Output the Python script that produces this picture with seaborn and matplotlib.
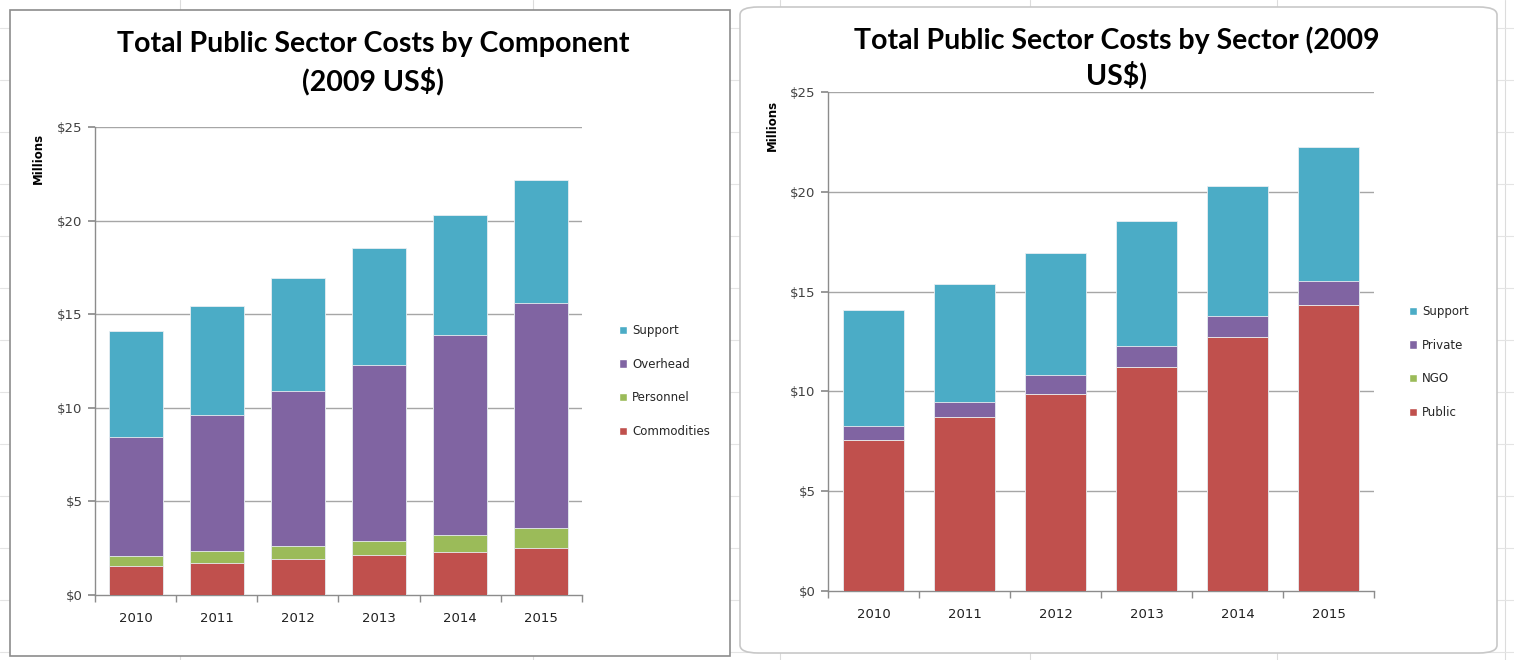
import matplotlib
matplotlib.use("Agg")
import matplotlib.pyplot as plt
from matplotlib.patches import Patch, FancyBboxPatch, Rectangle
from matplotlib.lines import Line2D
import numpy as np
import pandas as pd
import seaborn as sns

# ---------------- data ----------------
years = ["2010", "2011", "2012", "2013", "2014", "2015"]

# Left chart: by component (millions, 2009 US$)
commodities = [1.57, 1.73, 1.94, 2.16, 2.30, 2.51]
personnel   = [0.50, 0.62, 0.70, 0.74, 0.91, 1.06]
overhead    = [6.36, 7.26, 8.25, 9.39, 10.69, 12.02]
support_c   = [5.65, 5.84, 6.02, 6.24, 6.39, 6.59]

# Right chart: by sector (millions, 2009 US$)
public    = [7.56, 8.70, 9.88, 11.22, 12.74, 14.31]
ngo       = [0.0, 0.0, 0.0, 0.0, 0.0, 0.0]
private   = [0.73, 0.78, 0.94, 1.05, 1.05, 1.21]
support_s = [5.77, 5.92, 6.10, 6.26, 6.50, 6.70]

yticks = [0, 5, 10, 15, 20, 25]
ytick_labels = ["$0", "$5", "$10", "$15", "$20", "$25"]

title_left = "Total Public Sector Costs by Component\n(2009 US$)"
title_right = "Total Public Sector Costs by Sector (2009\nUS$)"

C_SUPPORT = "#4BACC6"
C_PURPLE = "#8064A2"
C_GREEN = "#9BBB59"
C_RED = "#C0504D"

sns.set_theme(style="white")
plt.rcParams["font.family"] = ["DejaVu Sans"]

fig = plt.figure(figsize=(15.14, 6.6), dpi=100)
fig.patch.set_facecolor("white")

W, H = 1514.0, 660.0

# spreadsheet-like background lines
for xv in [180, 533, 780, 1030, 1277, 1505]:
    fig.add_artist(Line2D([xv / W, xv / W], [0, 1], color="#dcdcdc", lw=0.8, zorder=0))
for yv in [28, 80, 132, 184, 236, 288, 340, 392, 444, 496, 548, 600, 652]:
    fig.add_artist(Line2D([0, 1], [1 - yv / H, 1 - yv / H], color="#e4e4e4", lw=0.8, zorder=0))

# chart panels
fig.add_artist(Rectangle((10 / W, 1 - 656 / H), 720 / W, 646 / H, transform=fig.transFigure,
                         facecolor="white", edgecolor="#8c8c8c", lw=1.2, zorder=0.5))
fig.add_artist(FancyBboxPatch((740 / W, 1 - 653 / H), 757 / W, 646 / H,
                              boxstyle="round,pad=0,rounding_size=0.012",
                              transform=fig.transFigure, facecolor="white",
                              edgecolor="#c8c8c8", lw=1.2, zorder=0.5))


def stacked(ax, layers, colors):
    cum = np.cumsum(np.array(layers), axis=0)
    for i in range(len(layers) - 1, -1, -1):
        df = pd.DataFrame({"year": years, "value": cum[i]})
        sns.barplot(data=df, x="year", y="value", ax=ax, color=colors[i],
                    width=0.667, edgecolor="#e8eef2", linewidth=0.6,
                    saturation=1, errorbar=None, zorder=3)


def style_axes(ax):
    ax.set_ylim(0, 25)
    ax.set_xlim(-0.5, 5.5)
    ax.set_yticks(yticks)
    ax.set_yticklabels(ytick_labels, fontsize=9.5, color="#404040")
    ax.set_xticks(range(len(years)))
    ax.set_xticklabels(years, fontsize=9.5, color="#202020")
    ax.set_xlabel("")
    ax.set_ylabel("")
    ax.set_facecolor("white")
    for y in yticks[1:]:
        ax.axhline(y, color="#a6a6a6", lw=1.0, zorder=1)
    for s in ["top", "right"]:
        ax.spines[s].set_visible(False)
    for s in ["left", "bottom"]:
        ax.spines[s].set_color("#8c8c8c")
        ax.spines[s].set_linewidth(1.0)
    ax.tick_params(axis="y", which="both", left=True, length=5, color="#8c8c8c", pad=4)
    ax.tick_params(axis="x", which="major", bottom=False, pad=6)
    ax.set_xticks(np.arange(-0.5, 6.0, 1.0), minor=True)
    ax.tick_params(axis="x", which="minor", bottom=True, length=5, color="#8c8c8c")


# ---------------- left chart ----------------
axL = fig.add_axes([95 / W, 1 - 595 / H, 487 / W, 468 / H])
axL.set_zorder(2)
stacked(axL, [commodities, personnel, overhead, support_c], [C_RED, C_GREEN, C_PURPLE, C_SUPPORT])
style_axes(axL)
fig.text(373 / W, 1 - 63 / H, title_left, ha="center", va="center", fontsize=20.5,
         fontweight="bold", family=["Lato", "DejaVu Sans"], linespacing=1.42, color="black")
fig.text(38 / W, 1 - 158 / H, "Millions", rotation=90, ha="center", va="center",
         fontsize=8.5, fontweight="bold", color="black")
handlesL = [Patch(facecolor=c) for c in [C_SUPPORT, C_PURPLE, C_GREEN, C_RED]]
legL = fig.legend(handlesL, ["Support", "Overhead", "Personnel", "Commodities"],
                  loc="upper left", bbox_to_anchor=(619 / W, 1 - 324 / H), frameon=False,
                  fontsize=8.5, handlelength=0.7, handleheight=0.7, handletextpad=0.4,
                  labelspacing=1.75, borderpad=0, borderaxespad=0)

# ---------------- right chart ----------------
axR = fig.add_axes([828 / W, 1 - 591 / H, 546 / W, 499 / H])
axR.set_zorder(2)
stacked(axR, [public, ngo, private, support_s], [C_RED, C_GREEN, C_PURPLE, C_SUPPORT])
style_axes(axR)
fig.text(1117 / W, 1 - 58 / H, title_right, ha="center", va="center", fontsize=20.5,
         fontweight="bold", family=["Lato", "DejaVu Sans"], linespacing=1.3, color="black")
fig.text(772 / W, 1 - 125 / H, "Millions", rotation=90, ha="center", va="center",
         fontsize=8.5, fontweight="bold", color="black")
handlesR = [Patch(facecolor=c) for c in [C_SUPPORT, C_PURPLE, C_GREEN, C_RED]]
legR = fig.legend(handlesR, ["Support", "Private", "NGO", "Public"],
                  loc="upper left", bbox_to_anchor=(1409 / W, 1 - 305 / H), frameon=False,
                  fontsize=8.5, handlelength=0.7, handleheight=0.7, handletextpad=0.4,
                  labelspacing=1.75, borderpad=0, borderaxespad=0)

fig.savefig("out.png", dpi=100, facecolor="white")
